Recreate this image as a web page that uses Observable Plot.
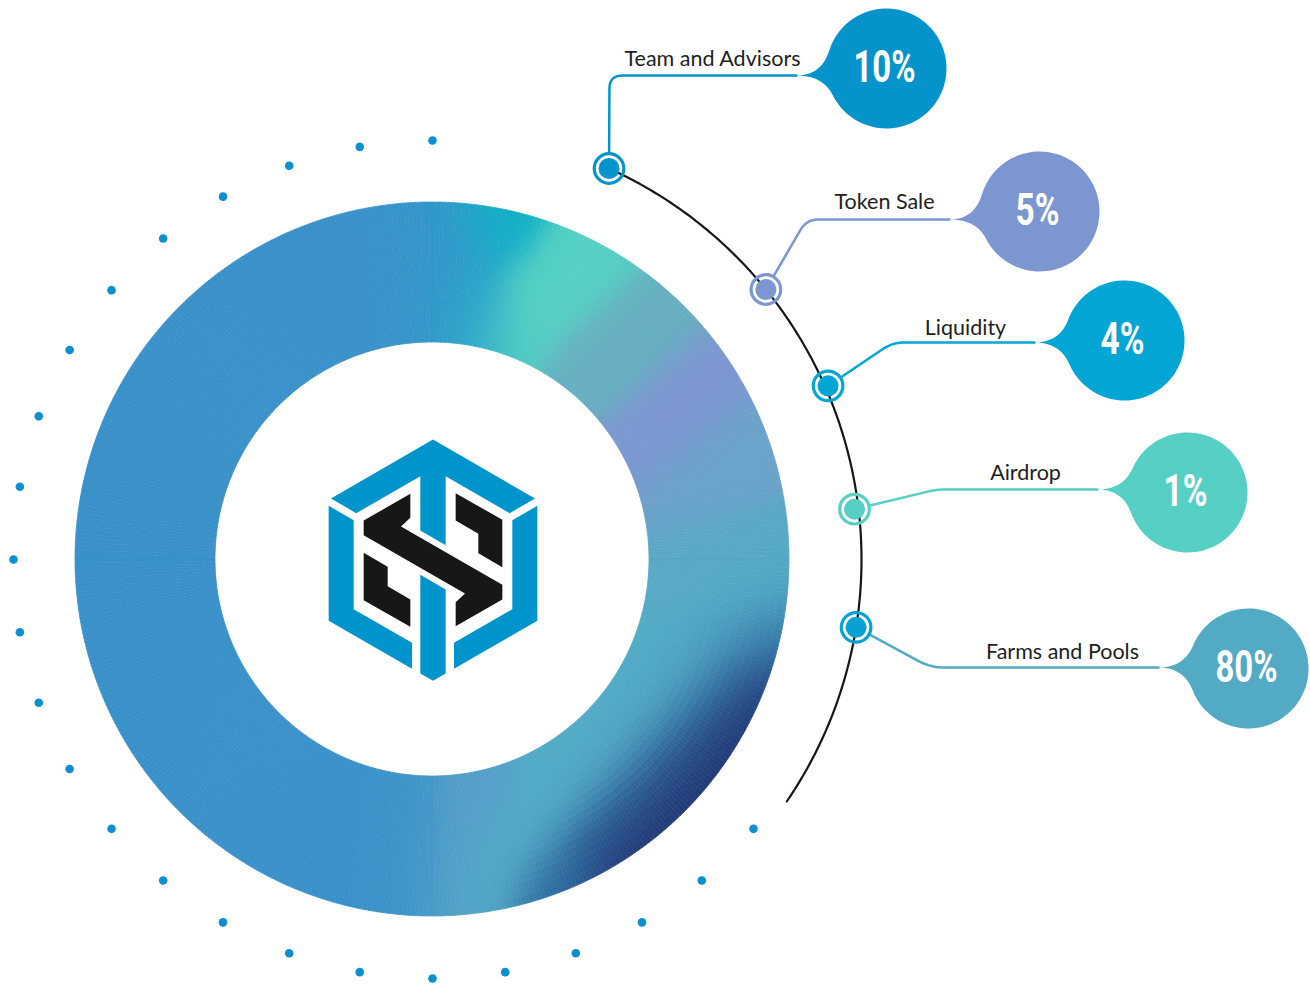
<!DOCTYPE html>
<html><head><meta charset="utf-8">
<script src="https://cdn.jsdelivr.net/npm/d3@7"></script>
<script src="https://cdn.jsdelivr.net/npm/@observablehq/plot@0.6"></script>
<style>
html,body{margin:0;padding:0;background:#fff;}
#chart{width:1310px;height:986px;overflow:hidden;}
</style></head><body><div id="chart"></div>
<script>
// ---------- DATA ----------
const categories = ["Team and Advisors", "Token Sale", "Liquidity", "Airdrop", "Farms and Pools"];
const shares = [10, 5, 4, 1, 80];
const shareLabels = shares.map(v => v + "%");

// ---------- STYLE / LAYOUT ----------
const bubbleColors = ["#0593cc", "#7b96d1", "#02a5d4", "#56cfc4", "#52aac5"];
const nodeColors   = ["#0593cc", "#7b96d1", "#02a5d4", "#56cfc4", "#06a2d3"];
const W = 1310, H = 986, CX = 432, CY = 559;
const R_OUT = 357, R_IN = 217, R_ARC = 429, R_DOTS = 419, R_BUB = 60;
const nodeAngles = [24.3, 51.0, 66.3, 83.2, 99.1];
const nodeRadii = [429, 429, 432, 425, 429];
const elbowX = [609, 806, 892, 936, 930];
const lineY = [75, 219, 342, 489, 667];
const cornerR = [13, 12, 12, 9, 14];
const bubbleX = [886, 1039, 1124, 1187, 1248];
const bubbleY = [68, 211, 340, 492, 668];
const labelX = [712, 884, 965, 1025, 1062];
const labelBase = [65, 208, 334, 479, 658];
const dotAngles = d3.range(130, 361, 10);

// freeform ring gradient: colour streaks [colour, from, to]
const ringStreaks = [
  ["#3893c9", [420,206], [428,342]],
  ["#2d9bcb", [452,207], [458,343]],
  ["#0fb0c6", [482,208], [505,240]],
  ["#22a9c9", [470,290], [476,335]],
  ["#55d0c3", [492,338], [605,245]],
  ["#65afc0", [583,380], [675,300]],
  ["#7b96d0", [630,462], [718,365]],
  ["#6aa2c9", [660,510], [760,440]],
  ["#57a9c5", [665,560], [785,555]],
  ["#52abc6", [785,585], [470,895]],
  ["#2e6aa0", [783,625], [540,900]],
  ["#1f2d6e", [765,682], [600,872]],
  ["#549fc9", [468,780], [445,905]],
  ["#3c93c9", [405,785], [405,910]]
];
const ringBase = "#3a91c9";

// logo polygons (units: 1/3 px, origin at logo centre 368,418.5)
const logoBlue = [
  [[62,234],[368,57],[674,234],[598,278],[406,167],[406,374],[330,330],[330,167],[138,278]],
  [[330,463],[406,507],[406,759],[368,781],[330,759]],
  [[55,256],[130,299],[130,566],[305,667],[305,745],[55,601]],
  [[681,256],[606,299],[606,566],[431,667],[431,745],[681,601]]
];
const logoBlack = [
  [[160,300],[300,220],[300,292],[272,318],[576,493],[576,537],[436,617],[436,545],[464,519],[160,344]],
  [[436,218],[576,298],[576,440],[504,398],[504,340],[436,300]],
  [[300,619],[160,539],[160,397],[232,439],[232,497],[300,537]]
];

// ---------- GEOMETRY ----------
const rad = d => d * Math.PI / 180;
const polarR = (r, deg) => [CX + r * Math.sin(rad(deg)), CY - r * Math.cos(rad(deg))];

const ctrl = [];
for (const [c, a, b] of ringStreaks) {
  const n = Math.max(2, Math.round(Math.hypot(b[0]-a[0], b[1]-a[1]) / 10));
  const col = d3.rgb(c);
  for (let k = 0; k <= n; k++) ctrl.push({x: a[0] + (b[0]-a[0]) * k / n, y: a[1] + (b[1]-a[1]) * k / n, c: col});
}
{
  const col = d3.rgb(ringBase);
  for (let a = 190; a <= 350; a += 8)
    for (const r of [225, 260, 290, 320, 350]) { const [x, y] = polarR(r, a); ctrl.push({x, y, c: col}); }
}
const SIG2 = 2 * 26 * 26;
function fieldColor(x, y) {
  let sw = 0, r = 0, g = 0, b = 0, best = null, bd = Infinity;
  for (const s of ctrl) {
    const d2 = (x - s.x) ** 2 + (y - s.y) ** 2;
    if (d2 < bd) { bd = d2; best = s; }
    const w = Math.exp(-d2 / SIG2);
    sw += w; r += w * s.c.r; g += w * s.c.g; b += w * s.c.b;
  }
  if (sw < 1e-9) return best.c.formatHex();
  return d3.rgb(r / sw, g / sw, b / sw).formatHex();
}

const NA = 540, NR = 20;
const cells = [];
for (let i = 0; i < NA; i++) {
  const a0 = i / NA * 360, a1 = (i + 1) / NA * 360, am = (a0 + a1) / 2;
  for (let j = 0; j < NR; j++) {
    const ra = R_IN + j * (R_OUT - R_IN) / NR, rb = ra + (R_OUT - R_IN) / NR;
    const [mx, my] = polarR((ra + rb) / 2, am);
    const fill = fieldColor(mx, my);
    const id = i * NR + j;
    for (const a of [a0, a1]) {
      const [x1, y1] = polarR(ra, a), [x2, y2] = polarR(rb, a);
      cells.push({id, x1, y1, x2, y2, fill});
    }
  }
}

const dots = dotAngles.map(a => { const [x, y] = polarR(R_DOTS, a); return {x, y}; });
const arcPts = d3.range(nodeAngles[0], 124.5, 0.5).map(a => { const [x, y] = polarR(R_ARC, a); return {x, y}; });
const nodes = categories.map((c, i) => { const [x, y] = polarR(nodeRadii[i], nodeAngles[i]); return {x, y, color: nodeColors[i]}; });

function quad(p0, c, p1, n) {
  const out = [];
  for (let k = 1; k <= n; k++) {
    const t = k / n, u = 1 - t;
    out.push([u*u*p0[0] + 2*u*t*c[0] + t*t*p1[0], u*u*p0[1] + 2*u*t*c[1] + t*t*p1[1]]);
  }
  return out;
}

const callouts = [];
categories.forEach((c, i) => {
  const n = nodes[i];
  const E = [elbowX[i], lineY[i]];
  const T = [bubbleX[i] - R_BUB - 30, lineY[i]];
  let dx = E[0] - n.x, dy = E[1] - n.y; const L = Math.hypot(dx, dy); dx /= L; dy /= L;
  const S = [n.x + dx * 16, n.y + dy * 16];
  const rr = cornerR[i];
  const Pa = [E[0] - dx * rr, E[1] - dy * rr], Pb = [E[0] + rr, E[1]];
  const pts = [S, Pa, ...quad(Pa, E, Pb, 10), T];
  pts.forEach(([x, y]) => callouts.push({id: i, x, y, color: bubbleColors[i]}));
});

const bubbles = [];
categories.forEach((c, i) => {
  const cx = bubbleX[i], cy = bubbleY[i], r = R_BUB, yL = lineY[i];
  const T = [cx - r - 30, yL];
  const psi = Math.atan2(yL - cy, T[0] - cx);
  const del = rad(22);
  const aTop = psi + del, aBot = psi - del;
  const junc = a => {
    const J = [cx + r * Math.cos(a), cy + r * Math.sin(a)];
    const t = (yL - J[1]) / Math.cos(a);
    let Cx = J[0] - t * Math.sin(a);
    Cx = Math.max(T[0], Math.min(J[0], Cx));
    return {J, C: [Cx, yL]};
  };
  const top = junc(aTop), bot = junc(aBot);
  const pts = [T, ...quad(T, top.C, top.J, 14)];
  const N = 90;
  for (let k = 1; k < N; k++) {
    const a = aTop + (aBot + 2 * Math.PI - aTop) * k / N;
    pts.push([cx + r * Math.cos(a), cy + r * Math.sin(a)]);
  }
  pts.push(bot.J, ...quad(bot.J, bot.C, T, 14));
  pts.forEach(([x, y]) => bubbles.push({id: i, x, y, color: bubbleColors[i]}));
});

const LCX = 432.5, LCY = 559.5;
const toLogo = (shapes, kind) => shapes.flatMap((poly, k) =>
  poly.map(([u, v]) => ({id: kind + k, x: LCX + (u - 368) / 3, y: LCY + (v - 418.5) / 3})));
const blueLogo = toLogo(logoBlue, "b");
const blackLogo = toLogo(logoBlack, "k");

const labels = categories.map((c, i) => ({text: c, x: labelX[i], y: labelBase[i] - 0.32 * 21.5}));
const pcts = shareLabels.map((t, i) => ({text: t, x: bubbleX[i] - 2, y: bubbleY[i] - 1}));

// ---------- PLOT ----------
const chart = Plot.plot({
  width: W, height: H, margin: 0,
  style: {background: "#ffffff"},
  x: {domain: [0, W], range: [0, W], axis: null},
  y: {domain: [0, H], range: [0, H], axis: null},
  color: {type: "identity"},
  marks: [
    Plot.area(cells, {x1: "x1", y1: "y1", x2: "x2", y2: "y2", z: "id", fill: "fill", stroke: "fill", strokeWidth: 0.7}),
    Plot.dot(dots, {x: "x", y: "y", r: 4.3, fill: "#0a8fcf"}),
    Plot.line(arcPts, {x: "x", y: "y", stroke: "#161616", strokeWidth: 2.2}),
    Plot.line(callouts, {x: "x", y: "y", z: "id", stroke: "color", strokeWidth: 2.5, strokeLinejoin: "round"}),
    Plot.dot(nodes, {x: "x", y: "y", r: 14.8, stroke: "color", strokeWidth: 3.2, fill: "none"}),
    Plot.dot(nodes, {x: "x", y: "y", r: 10.5, fill: "color"}),
    Plot.line(bubbles, {x: "x", y: "y", z: "id", fill: "color", stroke: "none"}),
    Plot.line(blueLogo, {x: "x", y: "y", z: "id", fill: "#0094cc", stroke: "none"}),
    Plot.line(blackLogo, {x: "x", y: "y", z: "id", fill: "#161816", stroke: "none"}),
    Plot.text(labels, {x: "x", y: "y", text: "text", fontSize: 21.5, fill: "#1e1e1e", fontFamily: "Lato, 'Noto Sans', sans-serif"}),
    Plot.text(pcts, {x: "x", y: "y", text: "text", fontSize: 45, fontWeight: "bold", fill: "#ffffff",
      fontFamily: "Roboto, 'Liberation Sans', sans-serif"})
  ]
});
d3.select(chart).selectAll("text")
  .filter(function () { return /%$/.test(this.textContent); })
  .attr("textLength", function () { return this.textContent.length >= 3 ? 62 : 44; })
  .attr("lengthAdjust", "spacingAndGlyphs");
document.getElementById("chart").appendChild(chart);
</script>
</body></html>
